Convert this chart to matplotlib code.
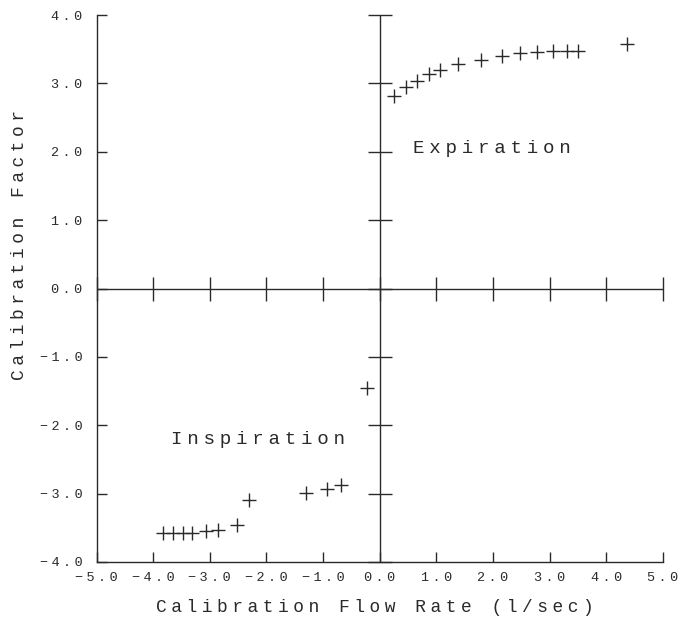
import matplotlib.pyplot as plt

# data
exp_flow = [0.26, 0.47, 0.66, 0.87, 1.06, 1.38, 1.79, 2.16, 2.48, 2.77, 3.05, 3.30, 3.50, 4.37]
exp_factor = [2.82, 2.94, 3.04, 3.14, 3.19, 3.28, 3.34, 3.40, 3.44, 3.46, 3.47, 3.48, 3.47, 3.57]
insp_flow = [-3.83, -3.65, -3.48, -3.32, -3.06, -2.85, -2.52, -2.31, -1.31, -0.93, -0.69, -0.22]
insp_factor = [-3.58, -3.58, -3.58, -3.58, -3.54, -3.53, -3.46, -3.10, -2.99, -2.93, -2.88, -1.45]

x_ticks = [-5, -4, -3, -2, -1, 0, 1, 2, 3, 4, 5]
y_ticks = [-4, -3, -2, -1, 0, 1, 2, 3, 4]

ink = '#2a2a2a'
# mono letters, the narrow spacer comes from DejaVu Sans
mono = ['Liberation Mono', 'DejaVu Sans']


def spaced(s):
    # plotter font has wide letter spacing
    return '\u2005'.join(s)


def num_label(v):
    return spaced(f'{v:.1f}'.replace('-', '\u2212'))


fig = plt.figure(figsize=(6.81, 6.17), dpi=100)
ax = fig.add_axes([96.5 / 681, 55 / 617, 566.5 / 681, 547 / 617])
ax.set_xlim(-5, 5)
ax.set_ylim(-4, 4)

for side in ['top', 'right']:
    ax.spines[side].set_visible(False)
for side in ['left', 'bottom']:
    ax.spines[side].set_color(ink)
    ax.spines[side].set_linewidth(1.0)

ax.set_xticks(x_ticks)
ax.set_yticks(y_ticks)
ax.set_xticklabels([num_label(v) for v in x_ticks], family=mono, fontsize=9.7, color=ink)
ax.set_yticklabels([num_label(v) for v in y_ticks], family=mono, fontsize=9.7, color=ink)
ax.tick_params(axis='x', direction='in', length=7, width=1.0, color=ink, pad=7)
ax.tick_params(axis='y', direction='in', length=7, width=1.0, color=ink, pad=10)

# axes through the origin with cross ticks
ax.axhline(0, color=ink, lw=1.0, zorder=1)
ax.axvline(0, color=ink, lw=1.0, zorder=1)
ax.plot(x_ticks, [0] * len(x_ticks), ls='none', marker='|', ms=17, mew=1.0, color=ink, clip_on=False)
ax.plot([0] * len(y_ticks), y_ticks, ls='none', marker='_', ms=17, mew=1.0, color=ink, clip_on=False)

# data points
ax.plot(exp_flow, exp_factor, ls='none', marker='+', ms=9.5, mew=1.0, color=ink, clip_on=False)
ax.plot(insp_flow, insp_factor, ls='none', marker='+', ms=9.5, mew=1.0, color=ink, clip_on=False)

ax.text(0.58, 2.05, spaced('Expiration'), family=mono, fontsize=13.8, color=ink,
        ha='left', va='center')
ax.text(-2.15, -2.21, spaced('Inspiration'), family=mono, fontsize=13.8, color=ink,
        ha='center', va='center')

fig.text(374.5 / 681, 1 - 608 / 617, spaced('Calibration Flow Rate (l/sec)'),
         family=mono, fontsize=12.9, color=ink, ha='center', va='center')
fig.text(20 / 681, 1 - 245 / 617, spaced('Calibration Factor'), rotation=90,
         family=mono, fontsize=12.9, color=ink, ha='center', va='center')

fig.savefig('out.png', dpi=100, facecolor='white')
